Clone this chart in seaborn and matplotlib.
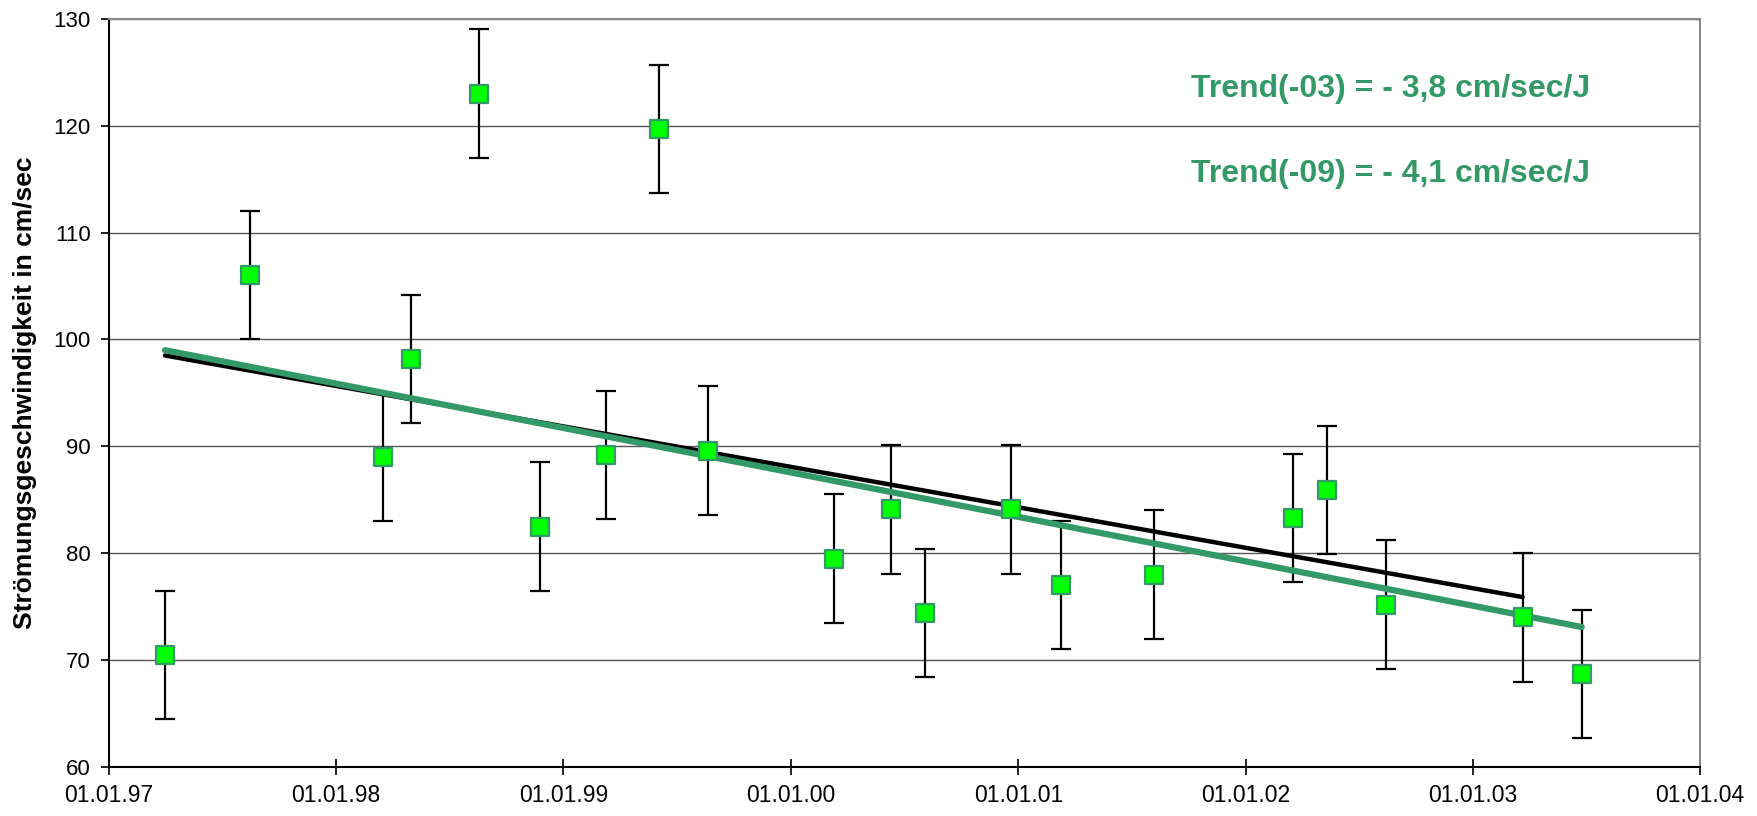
import matplotlib.pyplot as plt
import matplotlib.dates as mdates
import numpy as np
import pandas as pd
import seaborn as sns

dates = [
    "1997-04-01", "1997-08-15", "1998-03-17", "1998-05-01", "1998-08-18",
    "1998-11-24", "1999-03-10", "1999-06-03", "1999-08-22", "2000-03-10",
    "2000-06-10", "2000-08-04", "2000-12-20", "2001-03-10", "2001-08-07",
    "2002-03-18", "2002-05-12", "2002-08-15", "2003-03-22", "2003-06-25",
]
speed = [
    70.5, 106.0, 89.0, 98.2, 123.0,
    82.5, 89.2, 119.7, 89.6, 79.5,
    84.1, 74.4, 84.1, 77.0, 78.0,
    83.3, 85.9, 75.2, 74.0, 68.7,
]
error = [6.0] * len(speed)

# trend line end points
trend03_dates = ["1997-04-01", "2003-03-22"]
trend03_vals = [98.5, 75.9]
trend09_dates = ["1997-04-01", "2003-06-25"]
trend09_vals = [99.0, 73.1]

labels = ["Trend(-03) = - 3,8 cm/sec/J", "Trend(-09) = - 4,1 cm/sec/J"]

GREEN = "#339966"

sns.set_theme(style="white")
plt.rcParams["font.family"] = ["Liberation Sans", "DejaVu Sans"]

df = pd.DataFrame({"date": pd.to_datetime(dates), "speed": speed, "err": error})
t03 = pd.DataFrame({"date": pd.to_datetime(trend03_dates), "speed": trend03_vals})
t09 = pd.DataFrame({"date": pd.to_datetime(trend09_dates), "speed": trend09_vals})

fig = plt.figure(figsize=(17.58, 8.16), dpi=100)
ax = fig.add_axes([0.062, 0.06, 0.905, 0.917])

ax.errorbar(df["date"], df["speed"], yerr=df["err"], fmt="none", ecolor="black",
            elinewidth=1.6, capsize=7.5, capthick=1.6, zorder=2)
sns.lineplot(data=t03, x="date", y="speed", color="black", linewidth=3.2, ax=ax, zorder=3)
sns.lineplot(data=t09, x="date", y="speed", color=GREEN, linewidth=4.5, ax=ax, zorder=3,
             solid_capstyle="round")
sns.scatterplot(data=df, x="date", y="speed", marker="s", s=160, color="#00ff00",
                edgecolor=GREEN, linewidth=1.6, ax=ax, zorder=4)

ax.set_xlim(pd.Timestamp("1997-01-01"), pd.Timestamp("2004-01-01"))
ax.set_ylim(60, 130)
ax.set_yticks(np.arange(60, 131, 10))
ax.yaxis.grid(True, color="#555555", linewidth=1)
ax.xaxis.grid(False)

ax.xaxis.set_major_locator(mdates.YearLocator())
ax.xaxis.set_major_formatter(mdates.DateFormatter("%d.%m.%y"))
ax.xaxis.set_minor_locator(mdates.MonthLocator(bymonth=[4, 7, 10]))
ax.tick_params(axis="x", which="major", direction="inout", length=12, width=1.2,
               labelsize=16.5, pad=6, colors="black")
ax.tick_params(axis="x", which="minor", direction="in", length=6, width=1.2,
               colors="black")
ax.tick_params(axis="y", direction="out", length=6, width=1.2, labelsize=16,
               left=True, pad=7, colors="black")
ax.tick_params(axis="x", bottom=True)

for side in ["left", "bottom"]:
    ax.spines[side].set_color("black")
    ax.spines[side].set_linewidth(1.5)
for side in ["top", "right"]:
    ax.spines[side].set_color("#888888")
    ax.spines[side].set_linewidth(1.5)

ax.set_xlabel("")
ax.set_ylabel("Strömungsgeschwindigkeit in cm/sec", fontsize=19, fontweight="bold",
              labelpad=12, color="black")

ax.text(pd.Timestamp("2001-10-05"), 123.4, labels[0], color=GREEN, fontsize=23,
        fontweight="bold", va="center")
ax.text(pd.Timestamp("2001-10-05"), 115.5, labels[1], color=GREEN, fontsize=23,
        fontweight="bold", va="center")

fig.savefig("out.png", dpi=100)
plt.close(fig)
